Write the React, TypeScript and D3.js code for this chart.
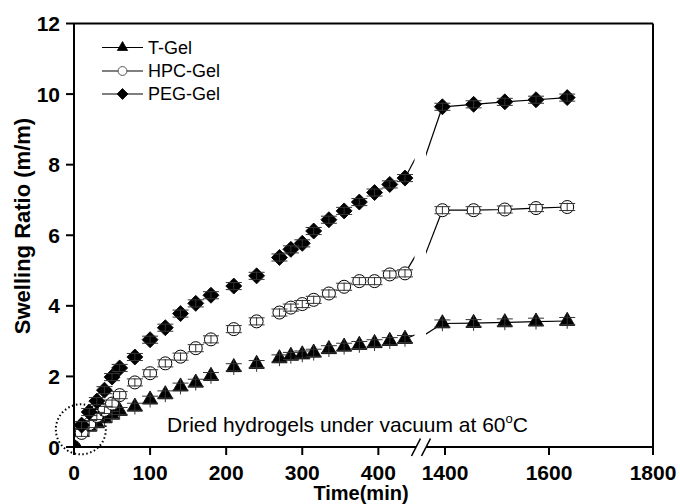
import React from 'react';
import * as d3 from 'd3';

// ---- data ----
const times1 = [0, 10, 20, 30, 40, 50, 60, 80, 100, 120, 140, 160, 180, 210, 240, 270, 285, 300, 315, 335, 355, 375, 395, 415, 435];
const times2 = [1395, 1455, 1515, 1575, 1635];

const tGel1 = [0, 0.42, 0.57, 0.67, 0.81, 0.91, 1.02, 1.14, 1.34, 1.49, 1.71, 1.82, 2.01, 2.26, 2.35, 2.51, 2.58, 2.62, 2.67, 2.77, 2.84, 2.89, 2.94, 3.0, 3.06];
const tGel2 = [3.5, 3.51, 3.53, 3.55, 3.57];
const hpcGel1 = [0, 0.4, 0.65, 0.88, 1.05, 1.23, 1.47, 1.83, 2.09, 2.37, 2.56, 2.8, 3.05, 3.34, 3.56, 3.81, 3.95, 4.05, 4.17, 4.35, 4.54, 4.7, 4.7, 4.89, 4.92];
const hpcGel2 = [6.71, 6.71, 6.73, 6.77, 6.8];
const pegGel1 = [0, 0.62, 0.99, 1.3, 1.61, 1.98, 2.24, 2.55, 3.04, 3.38, 3.78, 4.07, 4.3, 4.56, 4.85, 5.37, 5.6, 5.77, 6.12, 6.44, 6.69, 6.94, 7.21, 7.44, 7.62];
const pegGel2 = [9.64, 9.71, 9.78, 9.84, 9.9];

const tGelErr = 0.22;
const hpcGelErr = 0.12;
const pegGelErr = 0.12;

const seriesNames = ['T-Gel', 'HPC-Gel', 'PEG-Gel'];
const yTicks = [0, 2, 4, 6, 8, 10, 12];
const xTicks1 = [0, 100, 200, 300, 400];
const xTicks2 = [1400, 1600, 1800];

const FONT = "'Liberation Sans', Arial, sans-serif";

type Kind = 'triangle' | 'circle' | 'diamond';

function markerPath(kind: Kind, scale = 1): string {
  if (kind === 'triangle') return d3.symbol(d3.symbolTriangle, 100 * scale * scale)() as string;
  if (kind === 'circle') return d3.symbol(d3.symbolCircle, Math.PI * 6.5 * 6.5 * scale * scale)() as string;
  return d3.symbol(d3.symbolSquare, 128 * scale * scale)() as string;
}

function Marker({ kind, x, y, scale = 1, legend = false }: { kind: Kind; x: number; y: number; scale?: number; legend?: boolean }) {
  const d = markerPath(kind, scale);
  const rot = kind === 'diamond' ? ` rotate(45)` : '';
  const open = kind === 'circle';
  return (
    <path
      d={d}
      transform={`translate(${x},${y})${rot}`}
      fill={open ? '#fff' : '#000'}
      stroke={open ? (legend ? '#555' : '#000') : '#000'}
      strokeWidth={open ? 1 : 0.8}
    />
  );
}

export default function App() {
  const W = 680, H = 504;
  const left = 74, right = 653, top = 23.5, bottom = 447;
  const y = d3.scaleLinear().domain([0, 12]).range([bottom, top]);
  const x1 = d3.scaleLinear().domain([0, 450]).range([left, 416.4]);
  const x2 = d3.scaleLinear().domain([1350, 1800]).range([419, right]);
  const gapL = 416, gapR = 426;
  const line = d3.line<[number, number]>();

  const series: { name: string; kind: Kind; v1: number[]; v2: number[]; err: number }[] = [
    { name: seriesNames[0], kind: 'triangle', v1: tGel1, v2: tGel2, err: tGelErr },
    { name: seriesNames[1], kind: 'circle', v1: hpcGel1, v2: hpcGel2, err: hpcGelErr },
    { name: seriesNames[2], kind: 'diamond', v1: pegGel1, v2: pegGel2, err: pegGelErr },
  ];
  const capOff = 0.1;
  const capHalf = 8;

  const errBar = (cx: number, v: number, err: number, key: string) => (
    <g key={key} stroke="#333" strokeWidth={1}>
      <line x1={cx} x2={cx} y1={y(v - err)} y2={y(v + err)} />
      <line x1={cx - capHalf} x2={cx + capHalf} y1={y(v + capOff)} y2={y(v + capOff)} />
      <line x1={cx - capHalf} x2={cx + capHalf} y1={y(v - capOff)} y2={y(v - capOff)} />
    </g>
  );

  const legendX0 = 102, legendX1 = 143, legendY = [47.5, 71, 94];

  return (
    <svg width={W} height={H} style={{ position: 'absolute', left: 0, top: 0, display: 'block', background: '#fff' }} fontFamily={FONT}>
      <defs>
        <clipPath id="seg1"><rect x={left} y={0} width={414.5 - left} height={H} /></clipPath>
        <clipPath id="seg2"><rect x={gapR} y={0} width={right - gapR} height={H} /></clipPath>
        <clipPath id="plot"><rect x={left} y={top} width={right - left} height={bottom - top} /></clipPath>
      </defs>
      <rect x={0} y={0} width={W} height={H} fill="#fff" />

      {/* series */}
      {series.map((s) => {
        const last = s.v1.length - 1;
        const p1Last: [number, number] = [x1(times1[last]), y(s.v1[last])];
        const p2First: [number, number] = [x2(times2[0]), y(s.v2[0])];
        const seg2Pts = times2.map((t, i) => [x2(t), y(s.v2[i])] as [number, number]);
        return (
          <g key={s.name} clipPath="url(#plot)">
            <path d={line([p1Last, p2First]) as string} stroke="#000" strokeWidth={1.2} fill="none" clipPath="url(#seg1)" />
            <path d={line([[x2.range()[0] - 1, p1Last[1]], p2First]) as string} stroke="#000" strokeWidth={1.2} fill="none" clipPath="url(#seg2)" />
            <path d={line(seg2Pts) as string} stroke="#000" strokeWidth={1.2} fill="none" />
            {times1.map((t, i) => <Marker key={'m1' + i} kind={s.kind} x={x1(t)} y={y(s.v1[i])} />)}
            {times2.map((t, i) => <Marker key={'m2' + i} kind={s.kind} x={x2(t)} y={y(s.v2[i])} />)}
            {times1.map((t, i) => (i === 0 ? null : errBar(x1(t), s.v1[i], s.err, 'e1' + i)))}
            {times2.map((t, i) => errBar(x2(t), s.v2[i], s.err, 'e2' + i))}
          </g>
        );
      })}

      {/* frame */}
      <g stroke="#000" strokeWidth={2} fill="none">
        <line x1={left} x2={right} y1={top} y2={top} />
        <line x1={left} x2={left} y1={top} y2={bottom} />
        <line x1={right} x2={right} y1={top} y2={bottom} />
        <line x1={left} x2={gapL} y1={bottom} y2={bottom} />
        <line x1={gapR} x2={right} y1={bottom} y2={bottom} />
        <line x1={gapL - 4.5} x2={gapL + 4.5} y1={bottom + 9} y2={bottom - 8.5} strokeWidth={1.6} />
        <line x1={gapR - 4.5} x2={gapR + 4.5} y1={bottom + 9} y2={bottom - 8.5} strokeWidth={1.6} />
      </g>

      {/* y ticks */}
      {yTicks.map((t) => (
        <g key={'y' + t}>
          <line x1={left - 8} x2={left} y1={y(t)} y2={y(t)} stroke="#000" strokeWidth={2} />
          <text x={60} y={y(t)} dy="0.36em" textAnchor="end" fontSize={21} fontWeight="bold">{t}</text>
        </g>
      ))}
      {/* x ticks */}
      {xTicks1.map((t) => (
        <g key={'x1' + t}>
          <line x1={x1(t)} x2={x1(t)} y1={bottom} y2={bottom + 8} stroke="#000" strokeWidth={2} />
          <text x={x1(t)} y={480} textAnchor="middle" fontSize={21} fontWeight="bold">{t}</text>
        </g>
      ))}
      {xTicks2.map((t) => (
        <g key={'x2' + t}>
          <line x1={x2(t)} x2={x2(t)} y1={bottom} y2={bottom + 8} stroke="#000" strokeWidth={2} />
          <text x={x2(t)} y={480} textAnchor="middle" fontSize={21} fontWeight="bold">{t}</text>
        </g>
      ))}

      {/* axis titles */}
      <text x={361} y={500} textAnchor="middle" fontSize={20} fontWeight="bold">Time(min)</text>
      <text transform={`translate(30,${226}) rotate(-90)`} textAnchor="middle" fontSize={22} fontWeight="bold">Swelling Ratio (m/m)</text>

      {/* legend */}
      {series.map((s, i) => (
        <g key={'lg' + s.name}>
          <line x1={legendX0} x2={legendX1} y1={legendY[i]} y2={legendY[i]} stroke="#000" strokeWidth={1.2} />
          <Marker kind={s.kind} x={(legendX0 + legendX1) / 2} y={legendY[i]} scale={0.68} legend />
          <text x={148} y={legendY[i]} dy="0.36em" fontSize={18}>{s.name}</text>
        </g>
      ))}

      {/* annotation */}
      <text x={167} y={432} fontSize={21}>
        Dried hydrogels under vacuum at 60<tspan fontSize={13} dy={-9}>o</tspan><tspan dy={9}>C</tspan>
      </text>
      <circle cx={x1(9)} cy={y(0.5)} r={25} fill="none" stroke="#000" strokeWidth={2} strokeDasharray="1.5,2.5" />
    </svg>
  );
}
